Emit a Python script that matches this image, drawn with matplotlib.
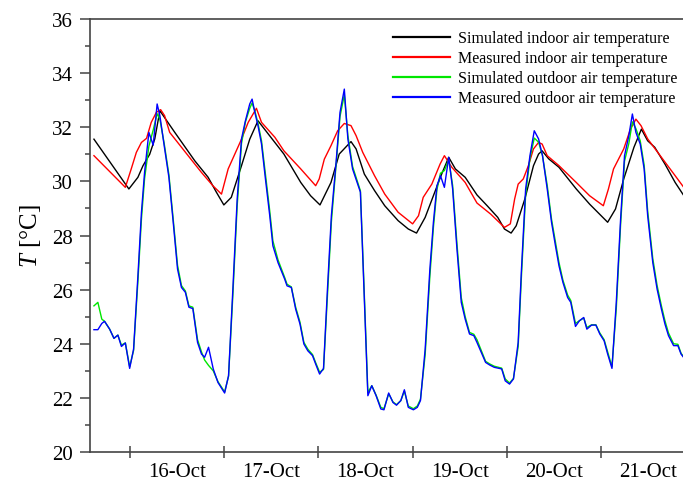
import matplotlib
matplotlib.use("Agg")
import matplotlib.pyplot as plt
from matplotlib.ticker import FixedLocator, MultipleLocator

# hours from 16-Oct 00:00
sim_in_h = [-9.2, -0.3, 2.0, 3.3, 5.0, 6.3, 7.6, 11.4, 16.5, 19.9, 22.0, 23.9, 25.8, 28.4, 30.5, 32.6,
            39.2, 43.5, 46.0, 48.4, 51.2, 53.3, 56.3, 57.6, 59.7, 62.3, 64.9, 68.3, 70.9, 73.0, 75.2,
            77.3, 79.4, 81.2, 82.9, 85.4, 88.4, 91.0, 93.7, 95.4, 97.1, 98.4, 100.6, 102.8, 104.1,
            105.0, 106.7, 109.3, 113.7, 117.1, 121.7, 123.7, 125.8, 128.4, 130.3, 131.9, 133.7,
            136.3, 138.9, 141.4]
sim_in_T = [31.56, 29.72, 30.15, 30.58, 31.0, 31.57, 32.61, 31.81, 30.76, 30.15, 29.6, 29.13, 29.41,
            30.58, 31.56, 32.24, 31.01, 29.96, 29.47, 29.13, 29.96, 31.01, 31.47, 31.2, 30.27, 29.66,
            29.1, 28.55, 28.24, 28.09, 28.67, 29.47, 30.27, 30.89, 30.46, 30.15, 29.5, 29.1, 28.67,
            28.24, 28.09, 28.36, 29.35, 30.58, 31.01, 31.13, 30.83, 30.52, 29.72, 29.16, 28.49, 28.98,
            30.09, 31.26, 31.93, 31.5, 31.26, 30.64, 29.96, 29.41]

meas_in_h = [-9.2, -1.2, 0.3, 1.6, 2.9, 4.2, 5.4, 6.7, 7.8, 8.8, 10.1, 11.8, 14.8, 18.2, 21.1, 23.3,
             25.0, 26.7, 28.4, 30.1, 32.2, 33.5, 36.9, 39.2, 43.5, 47.3, 48.2, 49.5, 51.2, 52.9, 54.6,
             56.3, 57.6, 59.3, 62.3, 64.9, 68.3, 72.0, 73.5, 74.7, 76.9, 79.0, 80.1, 82.0, 85.4, 88.4,
             91.9, 95.4, 96.9, 98.0, 98.9, 100.2, 101.5, 102.8, 104.1, 105.0, 106.3, 109.3, 113.7,
             117.1, 120.6, 121.9, 123.2, 124.5, 125.8, 127.5, 128.9, 130.2, 131.9, 135.4, 138.9, 141.4]
meas_in_T = [30.95, 29.78, 30.46, 31.07, 31.44, 31.59, 32.18, 32.55, 32.65, 32.43, 31.81, 31.5, 30.95,
             30.33, 29.84, 29.53, 30.46, 31.01, 31.56, 32.18, 32.7, 32.18, 31.63, 31.13, 30.46, 29.84,
             30.09, 30.82, 31.32, 31.87, 32.14, 32.06, 31.69, 31.07, 30.21, 29.53, 28.86, 28.43, 28.73,
             29.41, 29.9, 30.64, 30.95, 30.52, 29.96, 29.2, 28.79, 28.3, 28.43, 29.35, 29.9, 30.09,
             30.58, 31.2, 31.44, 31.38, 30.95, 30.58, 29.96, 29.47, 29.1, 29.72, 30.46, 30.83, 31.2,
             31.93, 32.3, 32.06, 31.57, 30.89, 30.21, 29.72]

out_h = [-9.2, -8.2, -7.2, -6.5, -5.2, -4.1, -3.1, -2.2, -1.2, -0.1, 0.9, 2.0, 2.9, 3.7, 4.8, 5.9, 6.9,
         7.6, 8.7, 9.9, 11.0, 12.1, 13.1, 14.1, 15.0, 16.0, 17.2, 18.2, 19.0, 20.0, 21.2, 22.4, 24.1,
         25.1, 26.2, 27.3, 28.4, 29.4, 30.5, 31.1, 31.8, 32.6, 33.5, 34.5, 35.6, 36.4, 37.7, 39.4,
         40.0, 41.1, 42.2, 43.3, 44.3, 45.3, 46.5, 47.3, 48.3, 49.3, 50.3, 51.3, 52.5, 53.5, 54.6,
         55.5, 56.7, 58.7, 59.6, 60.6, 61.6, 62.7, 63.9, 64.7, 65.9, 67.0, 67.9, 69.0, 69.9, 70.9,
         72.2, 73.2, 74.0, 75.2, 76.4, 77.3, 78.2, 79.1, 80.1, 81.2, 82.2, 83.3, 84.4, 85.4, 86.5,
         87.6, 88.4, 89.5, 90.6, 91.7, 92.8, 94.7, 95.6, 96.7, 97.7, 98.9, 99.7, 100.8, 101.9, 103.0,
         104.1, 105.1, 106.3, 107.4, 108.4, 109.3, 110.3, 111.5, 112.3, 113.5, 114.5, 115.6, 116.4,
         117.6, 118.7, 119.7, 120.8, 121.7, 122.8, 123.9, 125.0, 126.0, 127.1, 128.0, 128.9, 130.0,
         131.0, 131.9, 133.2, 134.3, 135.4, 136.3, 137.2, 138.5, 139.6, 140.4, 141.4]

sim_out_T = [25.40, 25.53, 24.91, 24.83, 24.54, 24.20, 24.32, 23.95, 24.03, 23.15, 23.75, 26.3, 28.6,
             30.10, 31.30, 31.90, 32.50, 32.30, 31.40, 30.25, 28.60, 26.90, 26.15, 25.95, 25.40, 25.35,
             24.15, 23.70, 23.40, 23.20, 23.00, 22.60, 22.22, 22.80, 25.80, 29.10, 31.40, 32.20, 32.70,
             32.90, 32.60, 32.15, 31.50, 30.25, 28.90, 27.80, 27.10, 26.45, 26.20, 26.10, 25.35, 24.80,
             24.05, 23.80, 23.60, 23.30, 22.95, 23.05, 25.80, 28.50, 30.60, 32.40, 33.20, 31.70, 30.55,
             29.65, 26.20, 22.20, 22.45, 22.10, 21.65, 21.60, 22.15, 21.85, 21.75, 21.90, 22.25, 21.70,
             21.60, 21.70, 21.95, 23.60, 26.50, 28.30, 29.70, 30.30, 30.40, 30.80, 29.85, 27.70, 25.70,
             25.00, 24.42, 24.35, 24.15, 23.75, 23.35, 23.25, 23.17, 23.10, 22.70, 22.55, 22.72, 23.90,
             26.40, 29.50, 30.85, 31.60, 31.45, 30.95, 29.85, 28.60, 27.75, 27.00, 26.35, 25.80, 25.60,
             24.75, 24.85, 24.95, 24.60, 24.70, 24.70, 24.40, 24.15, 23.70, 23.15, 25.30, 28.40, 30.75,
             31.40, 32.20, 31.95, 31.50, 30.60, 28.90, 27.15, 26.15, 25.40, 24.85, 24.40, 24.00, 23.98,
             23.65, 23.45]

meas_out_T = [24.52, 24.52, 24.75, 24.83, 24.54, 24.20, 24.32, 23.90, 24.03, 23.09, 23.80, 26.50, 28.85,
              30.33, 31.81, 31.34, 32.86, 32.43, 31.32, 30.15, 28.49, 26.76, 26.08, 25.90, 25.35, 25.30,
              24.05, 23.62, 23.50, 23.87, 23.07, 22.57, 22.18, 22.82, 26.02, 29.35, 31.57, 32.24, 32.86,
              33.04, 32.55, 32.06, 31.38, 30.09, 28.73, 27.62, 27.00, 26.39, 26.14, 26.08, 25.28, 24.73,
              23.99, 23.74, 23.56, 23.25, 22.88, 23.09, 26.02, 28.73, 30.70, 32.55, 33.41, 31.57, 30.46,
              29.60, 26.02, 22.08, 22.45, 22.08, 21.59, 21.56, 22.18, 21.83, 21.73, 21.90, 22.30, 21.65,
              21.56, 21.65, 21.90, 23.80, 26.76, 28.49, 29.84, 30.21, 29.78, 30.89, 29.72, 27.50, 25.53,
              24.91, 24.36, 24.30, 24.05, 23.68, 23.31, 23.21, 23.13, 23.07, 22.63, 22.51, 22.70, 24.05,
              26.64, 29.72, 30.95, 31.87, 31.57, 30.95, 29.72, 28.49, 27.62, 26.88, 26.27, 25.71, 25.53,
              24.64, 24.85, 24.97, 24.54, 24.69, 24.69, 24.36, 24.11, 23.62, 23.09, 25.53, 28.61, 30.95,
              31.69, 32.49, 31.81, 31.38, 30.46, 28.73, 27.00, 26.02, 25.28, 24.73, 24.30, 23.93, 23.93,
              23.62, 23.43]

day_labels = ["16-Oct", "17-Oct", "18-Oct", "19-Oct", "20-Oct", "21-Oct"]
series_names = ["Simulated indoor air temperature", "Measured indoor air temperature",
                "Simulated outdoor air temperature", "Measured outdoor air temperature"]

plt.rcParams['font.family'] = ['Liberation Serif', 'DejaVu Serif']
plt.rcParams['mathtext.fontset'] = 'custom'
plt.rcParams['mathtext.it'] = 'Liberation Serif:italic'
plt.rcParams['mathtext.rm'] = 'Liberation Serif'

fig = plt.figure(figsize=(6.83, 4.81), dpi=100)
ax = fig.add_axes([0.1318, 0.0582, 0.8682, 0.9002])

lw = 1.0
ax.plot(sim_in_h, sim_in_T, color='black', lw=lw, label=series_names[0])
ax.plot(meas_in_h, meas_in_T, color='#ff0000', lw=lw, label=series_names[1])
ax.plot(out_h, sim_out_T, color='#00e600', lw=lw, label=series_names[2])
ax.plot(out_h, meas_out_T, color='#0000ff', lw=lw, label=series_names[3])

ax.set_xlim(-10.2, 140.9)
ax.set_ylim(20, 36)

spine_c = '#444444'
for s in ['left', 'top', 'bottom']:
    ax.spines[s].set_color(spine_c)
    ax.spines[s].set_linewidth(1.2)
ax.spines['right'].set_visible(False)

ax.yaxis.set_major_locator(MultipleLocator(2))
ax.yaxis.set_minor_locator(MultipleLocator(1))
ax.tick_params(axis='y', which='major', direction='out', length=7.5, width=1.1, color=spine_c,
               labelsize=15, pad=5)
ax.tick_params(axis='y', which='minor', direction='out', length=3.8, width=1.1, color=spine_c)

ax.xaxis.set_major_locator(FixedLocator([24 * i for i in range(6)]))
ax.xaxis.set_minor_locator(FixedLocator([24 * i + 12 for i in range(6)]))
ax.xaxis.set_major_formatter(plt.NullFormatter())
ax.xaxis.set_minor_formatter(plt.FixedFormatter(day_labels))
ax.tick_params(axis='x', which='major', direction='inout', length=8, width=1.1, color=spine_c)
ax.tick_params(axis='x', which='minor', length=0, labelsize=15, pad=7)

ax.set_ylabel(r'$T$ [°C]', fontsize=18, labelpad=6)

leg = ax.legend(loc='upper left', bbox_to_anchor=(0.5754, 0.935), bbox_transform=fig.transFigure,
                frameon=False, fontsize=11.5, handlelength=3.6, handletextpad=0.5,
                labelspacing=0.25, borderpad=0, borderaxespad=0)
for line in leg.get_lines():
    line.set_linewidth(1.6)

fig.savefig('out.png', dpi=100)
